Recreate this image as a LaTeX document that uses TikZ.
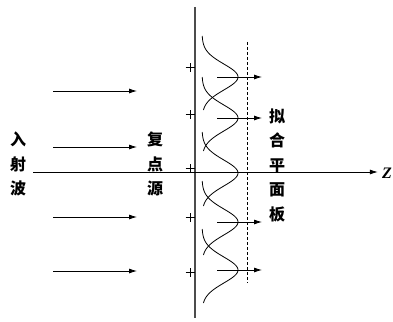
\documentclass[tikz,border=0pt]{standalone}
\usepackage{fontspec}
\newfontfamily\cjk{Noto Sans CJK SC}
\newfontfamily\zfont{Liberation Serif}
\usetikzlibrary{arrows.meta}
\begin{document}
\begin{tikzpicture}[x=1pt,y=-1pt,
  arr/.style={-{Latex[length=8pt,width=5pt]}, line width=0.8pt},
  lbl/.style={font=\cjk\bfseries\fontsize{16}{24.5}\selectfont, inner sep=0pt, align=center},
  gauss/.style={line width=0.8pt, domain=-41:33, samples=60, smooth, variable=\t},
  plusmark/.style={line width=1pt},
  pt/.style={inner sep=0pt, minimum size=0pt}]
\useasboundingbox (0,0) rectangle (393,321);

% screen (vertical line)
\coordinate (sT) at (195,7);
\coordinate (sB) at (195,318);
\draw[line width=1.6pt, black!70] (sT) -- (sB);

% z axis
\coordinate (zL) at (33,172);
\node[pt] (zR) at (378,172) {};
\draw[arr, line width=0.8pt] (zL) -- (zR);
\node[font=\zfont\bfseries\itshape\fontsize{16}{16}\selectfont, inner sep=0pt] (zlab) at (387,173) {Z};

% dashed fitting plane
\coordinate (dT) at (247,42);
\coordinate (dB) at (247,283);
\draw[dashed, dash pattern=on 3pt off 2pt, line width=0.8pt] (dT) -- (dB);

% plus marks
\foreach \y [count=\i] in {67,114,168,217,272}{
  \coordinate (p\i) at (190,\y);
  \draw[plusmark] ([xshift=-4.5pt]p\i) -- ([xshift=4.5pt]p\i)
                  ([yshift=-4.5pt]p\i) -- ([yshift=4.5pt]p\i);
}

% incident arrows
\foreach \y [count=\i] in {91,147,217,271}{
  \coordinate (ia\i) at (53,\y);
  \coordinate (ib\i) at (137,\y);
  \draw[arr] (ia\i) -- (ib\i);
}

% gaussians
\foreach \p in {77,118,173,222,270}
  \draw[gauss] plot ({202+36*exp(-(\t*\t)/338)}, {\p+\t});

% outgoing arrows
\foreach \y [count=\i] in {77,118,222,270}{
  \coordinate (oa\i) at (217,\y);
  \coordinate (ob\i) at (262,\y);
  \draw[arr] (oa\i) -- (ob\i);
}

% labels
\node[lbl] (inc) at (18,164) {入\\射\\波};
\node[lbl] (src) at (155,164) {复\\点\\源};
\node[lbl] (fit) at (277,165) {拟\\合\\平\\面\\板};
\end{tikzpicture}
\end{document}
